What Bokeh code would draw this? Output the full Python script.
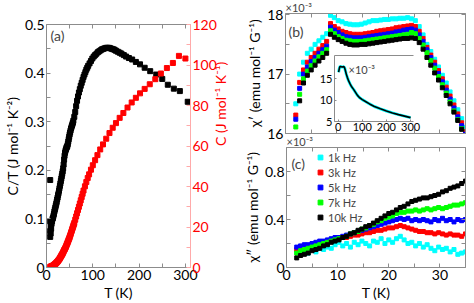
import math
from bokeh.plotting import figure
from bokeh.models import Range1d, LinearAxis, FixedTicker, Label
from bokeh.embed import file_html
from bokeh.resources import INLINE

FONT = "Lato"
GRAY = "#8c8c8c"

# ---------------- panel (a) data ----------------
T_ct = [8, 8, 8, 8, 9, 9, 10, 10, 11, 12,
        13, 14, 15, 16, 17, 18, 19, 20, 21, 22,
        23, 24, 25, 26, 27, 28, 29, 30, 31, 32,
        33, 34, 35, 36, 37, 38, 39, 40, 41, 42,
        43, 44, 45, 46, 47, 48, 49, 50, 51, 52,
        53, 54, 55, 56, 57, 58, 60, 62, 64, 66,
        68, 70, 72, 74, 76, 78, 80, 82, 84, 86,
        88, 90, 93, 96, 99, 102, 105, 108, 111, 114,
        117, 120, 123, 126, 129, 132, 135, 138, 141, 144,
        147, 150, 154, 158, 162, 167, 172, 178, 185, 193,
        202, 212, 224, 237, 250, 262, 275, 288, 305]
CT = [0.063, 0.075, 0.095, 0.18, 0.07, 0.085, 0.08, 0.095, 0.09, 0.095,
      0.1, 0.102, 0.106, 0.11, 0.115, 0.119, 0.123, 0.127, 0.131, 0.135,
      0.14, 0.144, 0.149, 0.153, 0.158, 0.163, 0.168, 0.173, 0.178, 0.183,
      0.188, 0.193, 0.198, 0.204, 0.212, 0.222, 0.23, 0.236, 0.24, 0.243,
      0.246, 0.248, 0.25, 0.254, 0.259, 0.264, 0.269, 0.274, 0.278, 0.282,
      0.286, 0.289, 0.292, 0.295, 0.298, 0.302, 0.31, 0.32, 0.332, 0.343,
      0.352, 0.36, 0.367, 0.374, 0.38, 0.386, 0.392, 0.397, 0.402, 0.407,
      0.411, 0.415, 0.42, 0.425, 0.43, 0.434, 0.437, 0.44, 0.443, 0.445,
      0.447, 0.449, 0.45, 0.451, 0.452, 0.452, 0.452, 0.451, 0.45, 0.449,
      0.448, 0.446, 0.444, 0.442, 0.44, 0.437, 0.434, 0.431, 0.428, 0.423,
      0.418, 0.411, 0.404, 0.397, 0.388, 0.376, 0.368, 0.363, 0.341]

T_c = [8, 9, 10, 11, 12, 13, 14, 15, 16, 17,
       18, 19, 20, 21, 22, 23, 24, 25, 26, 27,
       28, 29, 30, 31, 32, 33, 34, 35, 36, 37,
       38, 39, 40, 41, 42, 43, 44, 45, 46, 47,
       48, 49, 50, 51, 52, 53, 54, 55, 56, 57,
       58, 59, 60, 62, 64, 66, 68, 70, 72, 74,
       76, 78, 80, 83, 86, 89, 92, 96, 100, 105,
       110, 116, 122, 129, 136, 143, 150, 158, 166, 175,
       184, 193, 202, 212, 223, 235, 247, 260, 273, 286,
       300]
C = [0.3, 0.4, 0.5, 0.6, 0.7, 0.8, 0.9, 1.0, 1.2, 1.4,
     1.6, 1.8, 2.0, 2.25, 2.5, 2.75, 3.0, 3.3, 3.6, 3.9,
     4.2, 4.6, 5.0, 5.4, 5.8, 6.2, 6.6, 7.0, 7.5, 8.0,
     8.5, 8.9, 9.3, 9.8, 10.3, 10.9, 11.5, 12.0, 12.6, 13.2,
     13.8, 14.4, 15.0, 15.7, 16.4, 17.1, 17.8, 18.5, 19.2, 19.9,
     20.6, 21.3, 22.0, 23.6, 25.2, 26.8, 28.4, 30.0, 31.6, 33.2,
     34.8, 36.4, 38.0, 40.1, 42.2, 44.2, 46.0, 48.3, 50.5, 53.0,
     55.5, 58.3, 60.8, 63.6, 66.4, 69.0, 71.3, 73.9, 76.3, 79.0,
     81.5, 83.8, 86.0, 88.2, 90.5, 93.0, 95.8, 98.5, 101.0, 104.5,
     103.2]

# ---------------- panels (b), (c) data ----------------
T_ac = [2.0, 2.75, 3.5, 4.25, 5.0, 5.75, 6.5, 7.25, 8.0, 8.75,
        9.5, 10.25, 11.0, 11.75, 12.5, 13.25, 14.0, 14.75, 15.5, 16.25,
        17.0, 17.75, 18.5, 19.25, 20.0, 20.75, 21.5, 22.25, 23.0, 23.75,
        24.5, 25.25, 26.0, 26.75, 27.5, 28.25, 29.0, 29.75, 30.5, 31.25,
        32.0, 32.75, 33.5, 34.25, 35.0]
freq_labels = ["1k Hz", "3k Hz", "5k Hz", "7k Hz", "10k Hz"]
freq_colors = ["#00ffff", "#ff0000", "#0000ff", "#00ff00", "#000000"]

chi1_1k = [16.5, 17.0, 17.2, 17.35, 17.42, 17.5, 17.56, 17.62, 17.68, 17.99,
           17.95, 17.9, 17.88, 17.85, 17.84, 17.83, 17.83, 17.84, 17.86, 17.88,
           17.9, 17.9, 17.91, 17.92, 17.92, 17.93, 17.93, 17.94, 17.94, 17.95,
           17.93, 17.9, 17.8, 17.66, 17.5, 17.38, 17.25, 17.12, 16.98, 16.85,
           16.7, 16.55, 16.4, 16.25, 16.1]
chi1_3k = [16.31, 16.86, 17.07, 17.2, 17.28, 17.35, 17.42, 17.48, 17.55, 17.85,
           17.8, 17.76, 17.72, 17.7, 17.68, 17.67, 17.67, 17.67, 17.68, 17.69,
           17.7, 17.72, 17.73, 17.74, 17.75, 17.76, 17.78, 17.79, 17.8, 17.81,
           17.82, 17.8, 17.72, 17.6, 17.45, 17.32, 17.2, 17.06, 16.92, 16.78,
           16.63, 16.48, 16.33, 16.18, 16.03]
chi1_5k = [16.24, 16.76, 17.0, 17.12, 17.21, 17.28, 17.35, 17.41, 17.47, 17.79,
           17.74, 17.7, 17.66, 17.63, 17.62, 17.61, 17.61, 17.61, 17.62, 17.63,
           17.64, 17.65, 17.66, 17.67, 17.68, 17.69, 17.71, 17.72, 17.74, 17.75,
           17.76, 17.74, 17.66, 17.55, 17.41, 17.28, 17.15, 17.01, 16.87, 16.73,
           16.58, 16.43, 16.28, 16.13, 15.99]
chi1_7k = [16.11, 16.66, 16.92, 17.05, 17.14, 17.22, 17.29, 17.35, 17.41, 17.73,
           17.68, 17.63, 17.6, 17.57, 17.56, 17.55, 17.55, 17.55, 17.56, 17.57,
           17.58, 17.59, 17.6, 17.61, 17.62, 17.63, 17.64, 17.65, 17.66, 17.67,
           17.7, 17.68, 17.6, 17.49, 17.36, 17.23, 17.1, 16.96, 16.82, 16.68,
           16.53, 16.38, 16.23, 16.08, 15.94]
chi1_10k = [15.95, 16.55, 16.85, 16.98, 17.07, 17.15, 17.22, 17.28, 17.35, 17.67,
            17.62, 17.58, 17.55, 17.52, 17.5, 17.49, 17.49, 17.5, 17.5, 17.51,
            17.52, 17.53, 17.54, 17.55, 17.56, 17.57, 17.58, 17.59, 17.6, 17.6,
            17.61, 17.6, 17.53, 17.42, 17.28, 17.15, 17.02, 16.9, 16.77, 16.64,
            16.5, 16.36, 16.22, 16.07, 15.92]

chi2_1k = [0.13, 0.11, 0.13, 0.12, 0.15, 0.13, 0.16, 0.15, 0.17, 0.16,
           0.19, 0.21, 0.18, 0.2, 0.17, 0.21, 0.19, 0.22, 0.2, 0.18,
           0.22, 0.21, 0.24, 0.2, 0.23, 0.21, 0.24, 0.26, 0.23, 0.2,
           0.21, 0.18, 0.2, 0.17, 0.19, 0.16, 0.14, 0.17, 0.15, 0.16,
           0.13, 0.15, 0.11, 0.12, 0.13]
chi2_3k = [0.15, 0.16, 0.17, 0.18, 0.19, 0.2, 0.2, 0.21, 0.22, 0.23,
           0.23, 0.24, 0.25, 0.25, 0.26, 0.27, 0.27, 0.28, 0.29, 0.29,
           0.3, 0.31, 0.31, 0.32, 0.33, 0.33, 0.34, 0.35, 0.34, 0.33,
           0.32, 0.31, 0.3, 0.3, 0.29, 0.29, 0.28, 0.29, 0.28, 0.27,
           0.28, 0.27, 0.27, 0.26, 0.28]
chi2_5k = [0.17, 0.18, 0.19, 0.19, 0.2, 0.21, 0.22, 0.22, 0.23, 0.24,
           0.25, 0.25, 0.26, 0.27, 0.28, 0.29, 0.3, 0.31, 0.32, 0.33,
           0.34, 0.35, 0.36, 0.37, 0.38, 0.39, 0.4, 0.41, 0.4, 0.41,
           0.39, 0.4, 0.39, 0.4, 0.39, 0.38, 0.4, 0.39, 0.41, 0.39,
           0.4, 0.38, 0.4, 0.39, 0.4]
chi2_7k = [0.12, 0.14, 0.15, 0.16, 0.17, 0.18, 0.19, 0.2, 0.21, 0.22,
           0.23, 0.24, 0.25, 0.26, 0.28, 0.29, 0.3, 0.32, 0.33, 0.35,
           0.36, 0.38, 0.39, 0.41, 0.42, 0.43, 0.45, 0.46, 0.46, 0.47,
           0.47, 0.48, 0.47, 0.48, 0.49, 0.48, 0.49, 0.5, 0.49, 0.5,
           0.51, 0.52, 0.52, 0.53, 0.54]
chi2_10k = [0.08, 0.1, 0.11, 0.12, 0.14, 0.15, 0.16, 0.18, 0.19, 0.21,
            0.22, 0.23, 0.25, 0.26, 0.28, 0.29, 0.31, 0.32, 0.34, 0.35,
            0.37, 0.39, 0.41, 0.43, 0.45, 0.46, 0.48, 0.5, 0.51, 0.53,
            0.55, 0.56, 0.57, 0.58, 0.58, 0.59, 0.6, 0.61, 0.63, 0.64,
            0.66, 0.67, 0.68, 0.7, 0.72]

# inset of (b): chi' over the full range
T_in = [2, 4, 6, 8, 12, 16, 20, 24, 27, 30, 34, 38, 44, 50, 56,
        64, 72, 80, 88, 100, 115, 130, 150, 175, 200, 225, 250, 275, 300]
chi_in = [16.5, 17.1, 17.6, 17.85, 17.8, 17.7, 17.75, 17.8, 17.5, 16.9,
          16.0, 15.3, 14.4, 13.7, 13.1, 12.5, 11.8, 11.1, 10.6, 10.1,
          9.6, 9.1, 8.5, 7.95, 7.45, 7.0, 6.6, 6.25, 5.9]

chi1_series = [chi1_1k, chi1_3k, chi1_5k, chi1_7k, chi1_10k]
chi2_series = [chi2_1k, chi2_3k, chi2_5k, chi2_7k, chi2_10k]


def style_axis(ax, ticks, minor, labels=True, size="14px", line_color=GRAY,
               label_color="black", tick_in=4):
    ax.ticker = FixedTicker(ticks=ticks, minor_ticks=minor)
    ax.axis_line_color = line_color
    ax.major_tick_line_color = line_color
    ax.minor_tick_line_color = line_color
    ax.major_tick_in = tick_in
    ax.major_tick_out = 0
    ax.minor_tick_in = tick_in
    ax.minor_tick_out = 0
    ax.major_label_text_font = FONT
    if labels:
        ax.major_label_text_color = label_color
        ax.major_label_text_font_size = size
        ax.major_label_standoff = 2
    else:
        ax.major_label_text_color = None
        ax.major_label_text_font_size = "0px"
        ax.major_label_standoff = 0
    ax.axis_label_text_font = FONT
    ax.axis_label_text_font_style = "normal"
    ax.axis_label_text_font_size = size
    ax.axis_label_text_color = label_color
    ax.axis_label_standoff = 1


def pos(left, top):
    return {"position": "absolute", "left": f"{left}px", "top": f"{top}px"}


def base_fig(**kw):
    p = figure(output_backend="svg", toolbar_location=None, **kw)
    p.xgrid.visible = False
    p.ygrid.visible = False
    p.outline_line_color = None
    p.background_fill_color = "white"
    p.border_fill_alpha = 0
    return p


def panel_label(p, text, x, y, size="14px"):
    p.add_layout(Label(x=x, y=y, x_units="screen", y_units="screen", text=text,
                       text_font=FONT, text_font_size=size, text_baseline="middle"))


def exponent_title(p, size="11px"):
    p.title.text = "×10⁻³"
    p.title.text_font = FONT
    p.title.text_font_size = size
    p.title.text_font_style = "normal"
    p.title.align = "left"
    p.title.standoff = 0
    p.title.offset = 0


# ---------------- panel (a) ----------------
pa = base_fig(width=240, height=303, x_range=Range1d(0, 311), y_range=Range1d(0, 0.5),
              min_border_left=41, min_border_right=42, min_border_top=24,
              min_border_bottom=32, x_axis_label="T (K)",
              y_axis_label="C/T (J mol⁻¹ K⁻²)", styles=pos(0, 0))
pa.extra_y_ranges = {"C": Range1d(0, 120)}
pa.scatter(T_ct, CT, marker="square", size=5, color="black")
pa.scatter(T_c, C, marker="square", size=5, color="red", y_range_name="C")
style_axis(pa.xaxis[0], [0, 100, 200, 300], [50, 150, 250])
style_axis(pa.yaxis[0], [0, 0.1, 0.2, 0.3, 0.4, 0.5], [0.05, 0.15, 0.25, 0.35, 0.45])
pa.yaxis[0].major_label_overrides = {0: "0"}
ax_r = LinearAxis(y_range_name="C", axis_label="C (J mol⁻¹ K⁻¹)")
style_axis(ax_r, [0, 20, 40, 60, 80, 100, 120], [10, 30, 50, 70, 90, 110],
           line_color="#ffaaaa", label_color="red")
try:
    ax_r.axis_label_orientation = math.pi / 2
except Exception:
    pass
pa.add_layout(ax_r, "right")
ax_t = LinearAxis()
style_axis(ax_t, [0, 100, 200, 300], [50, 150, 250], labels=False)
pa.add_layout(ax_t, "above")
panel_label(pa, "(a)", 4, 232)

# ---------------- panel (b) ----------------
pb = base_fig(width=234, height=147, x_range=Range1d(0, 35), y_range=Range1d(16, 18.02),
              min_border_left=45, min_border_right=9, min_border_top=0,
              min_border_bottom=12, y_axis_label="χ′ (emu mol⁻¹ G⁻¹)",
              styles=pos(240, -2))
exponent_title(pb)
for ys, col in zip(chi1_series, freq_colors):
    pb.scatter(T_ac, ys, marker="square", size=4, color=col)
style_axis(pb.xaxis[0], [0, 10, 20, 30], [5, 15, 25, 35], labels=False)
style_axis(pb.yaxis[0], [16, 17, 18], [16.5, 17.5])
for side in ("above", "right"):
    ax = LinearAxis()
    if side == "above":
        style_axis(ax, [0, 10, 20, 30], [5, 15, 25, 35], labels=False)
    else:
        style_axis(ax, [16, 17, 18], [16.5, 17.5], labels=False)
    pb.add_layout(ax, side)
panel_label(pb, "(b)", 3, 102)

# ---------------- panel (c) ----------------
pc = base_fig(width=234, height=171, x_range=Range1d(0, 35), y_range=Range1d(0, 1.0),
              min_border_left=45, min_border_right=9, min_border_top=0,
              min_border_bottom=32, x_axis_label="T (K)",
              y_axis_label="χ″ (emu mol⁻¹ G⁻¹)", styles=pos(240, 132))
exponent_title(pc)
for ys, col, lab in zip(chi2_series, freq_colors, freq_labels):
    pc.scatter(T_ac, ys, marker="square", size=4, color=col, legend_label=lab)
style_axis(pc.xaxis[0], [0, 10, 20, 30], [5, 15, 25, 35])
style_axis(pc.yaxis[0], [0, 0.4, 0.8], [0.2, 0.6, 1.0])
pc.yaxis[0].major_label_overrides = {0: "0"}
for side in ("above", "right"):
    ax = LinearAxis()
    if side == "above":
        style_axis(ax, [0, 10, 20, 30], [5, 15, 25, 35], labels=False)
    else:
        style_axis(ax, [0, 0.4, 0.8], [0.2, 0.6, 1.0], labels=False)
    pc.add_layout(ax, side)
lg = pc.legend[0]
lg.location = (28, 43)
lg.border_line_color = None
lg.background_fill_alpha = 0
lg.padding = 0
lg.margin = 0
lg.spacing = 1
lg.glyph_width = 12
lg.glyph_height = 14
lg.label_height = 14
lg.label_standoff = 2
lg.label_text_font = FONT
lg.label_text_font_size = "11px"
panel_label(pc, "(c)", 5, 104)

# ---------------- inset ----------------
pin = base_fig(width=105, height=82, x_range=Range1d(-15, 312), y_range=Range1d(5, 20.4),
               min_border_left=16, min_border_right=8, min_border_top=2,
               min_border_bottom=14, styles=pos(316, 53))
pin.background_fill_alpha = 0
pin.line(T_in, chi_in, color="#00ffff", line_width=3)
pin.line(T_in, chi_in, color="black", line_width=1.6)
style_axis(pin.xaxis[0], [0, 100, 200, 300], [], size="11px", tick_in=2)
style_axis(pin.yaxis[0], [5, 10, 15], [], size="11px", tick_in=2)
pin.xaxis[0].major_label_standoff = 1
pin.yaxis[0].major_label_standoff = 2
ax_ti = LinearAxis()
style_axis(ax_ti, [0, 100, 200, 300], [], labels=False, tick_in=0)
pin.add_layout(ax_ti, "above")
pin.add_layout(Label(x=14, y=52, x_units="screen", y_units="screen", text="×10⁻³",
                     text_font=FONT, text_font_size="11px", text_baseline="middle"))

open("out.html", "w").write(file_html([pa, pb, pc, pin], INLINE))
